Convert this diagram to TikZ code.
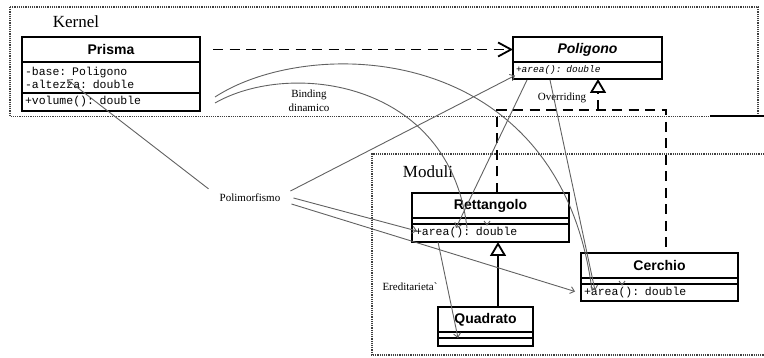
\documentclass[tikz,border=0pt]{standalone}
\usepackage{fontspec}
\setmainfont{Liberation Serif}
\newfontfamily\sansf{Liberation Sans}
\newfontfamily\monof{Liberation Mono}
\usetikzlibrary{arrows.meta,calc}

\begin{document}
\begin{tikzpicture}[x=1pt,y=-1pt,
  box/.style={draw=black, line width=1.8pt, rectangle, inner sep=0pt, outer sep=0pt},
  head/.style={box, anchor=north west, minimum height=25pt,
               font=\sansf\bfseries\fontsize{14}{16}\selectfont},
  comp/.style={box, anchor=north west, inner xsep=3pt, inner ysep=0pt, align=left,
               font=\monof\fontsize{11.5}{13}\selectfont},
  lab/.style={inner sep=1pt, align=center, font=\fontsize{11}{14}\selectfont},
  pkg/.style={inner sep=0pt, font=\fontsize{17}{20}\selectfont},
  pkgline/.style={draw=black!75, line width=1.3pt, dash pattern=on 1.2pt off 1pt},
  note/.style={draw=black!62, line width=0.9pt},
  notearrow/.style={note, -{Straight Barb[length=4pt,width=7pt]}},
  dashline/.style={line width=1.8pt, dash pattern=on 10pt off 6.5pt},
  gen/.style={line width=1.8pt, -{Triangle[open,length=14pt,width=16pt]}},
]
\useasboundingbox (0,0) rectangle (764,358);

% packages
\draw[pkgline] (10,7) rectangle (758,116.5);
\draw[line width=1.8pt] (710,116) -- (764,116);
\draw[pkgline] (764,154) -- (372,154) -- (372,355) -- (764,355);
\node[pkg] (kernel) at (76,22) {Kernel};
\node[pkg] (moduli) at (428,172) {Moduli};

% classes
\node[head, minimum width=178pt] (prisma) at (22,37) {Prisma};
\node[comp, text width=172pt, minimum height=31pt] (prismaattr) at (prisma.south west) {-base: Poligono\\-altezza: double};
\node[comp, text width=172pt, minimum height=18pt] (prismaops) at (prismaattr.south west) {+volume(): double};

\node[head, minimum width=149pt, font=\sansf\bfseries\itshape\fontsize{14}{16}\selectfont] (polhead) at (513,37) {Poligono};
\node[comp, text width=143pt, minimum height=17pt, font=\monof\itshape\fontsize{9.5}{11}\selectfont] (polops) at (polhead.south west) {+area(): double};

\node[head, minimum width=157pt] (rett) at (412,193) {Rettangolo};
\node[comp, minimum width=157pt, minimum height=6pt] (rettattr) at (rett.south west) {};
\node[comp, text width=151pt, minimum height=18pt] (rettops) at (rettattr.south west) {+area(): double};

\node[head, minimum width=95pt] (quad) at (438,307) {Quadrato};
\node[comp, minimum width=95pt, minimum height=6pt] (quadattr) at (quad.south west) {};
\node[comp, minimum width=95pt, minimum height=8pt] (quadops) at (quadattr.south west) {};

\node[head, minimum width=157pt] (cerc) at (581,253) {Cerchio};
\node[comp, minimum width=157pt, minimum height=6pt] (cercattr) at (cerc.south west) {};
\node[comp, text width=151pt, minimum height=17pt] (cercops) at (cercattr.south west) {+area(): double};

% relationships
\draw[dashline, -{Straight Barb[length=13pt,width=14pt]}, shorten <=13pt] (prisma.east) -- (polhead.west);

\coordinate (ovl) at (497,110);
\coordinate (ovr) at (666,110);
\coordinate (ovm) at (598,110);
\coordinate (gx) at (498,0);
\draw[dashline] (rett.north -| ovl) -- (ovl) -- (ovr) -- (cerc.north -| ovr);
\draw[dashline, gen] (ovm) -- (polops.south -| ovm);
\draw[gen] (quad.north -| gx) -- (rettops.south -| gx);

% annotations
\node[lab] (poli) at (250,198) {Polimorfismo};
\node[lab] (bind) at (309,101) {Binding\\dinamico};
\node[lab] (over) at (562,98) {Overriding};
\node[lab] (ered) at (410,287) {Ereditarieta\textasciigrave};

\draw[notearrow] ($(poli.north west)+(-10,-4)$) -- ($(prismaattr.west)+(45,2)$);
\draw[notearrow] ($(poli.east)+(9,-7)$) -- ($(polops.west)+(2,5)$);
\draw[notearrow] ($(poli.east)+(12,0)$) -- ($(rettops.west)+(5,-2)$);
\draw[notearrow] ($(poli.east)+(10,6)$) -- ($(cercops.west)+(-6,-1)$);

\draw[note] ($(prismaops.north east)+(15,4)$) .. controls (310,35) and (560,40) .. ($(cercops.west)+(11,-2)$);
\draw[note] ($(prismaops.east)+(15,1)$) .. controls (290,60) and (450,80) .. ($(rettops.north west)+(55,4)$);

\draw[notearrow] ($(polops.south west)+(14,1)$) -- ($(rettops.north west)+(44,4)$);
\draw[notearrow] ($(polops.south west)+(37,1)$) -- ($(cercops.west)+(14,-2)$);
\draw[notearrow] ($(rettops.south west)+(26,0)$) -- ($(quadattr.south west)+(20,0)$);

\draw[note] ($(rettops.north west)+(72,-3)$) -- ++(3,4) -- ++(3,-4);
\draw[note] ($(cercops.north west)+(38,-3)$) -- ++(3,4) -- ++(3,-4);
\end{tikzpicture}
\end{document}
